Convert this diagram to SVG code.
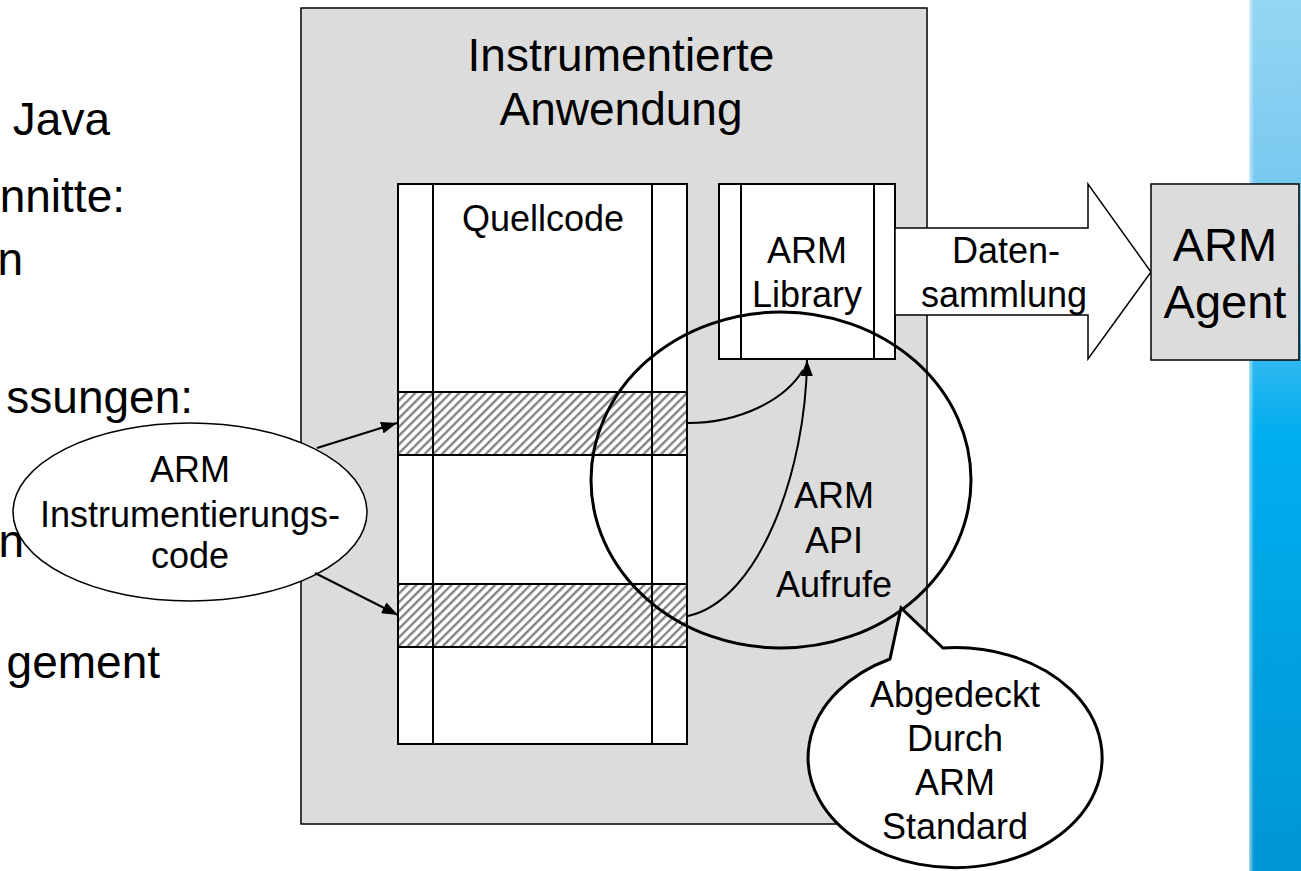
<svg xmlns="http://www.w3.org/2000/svg" width="1301" height="871" viewBox="0 0 1301 871">
<style>
.t{font-family:"Liberation Sans",Arial,Helvetica,sans-serif;fill:#000}
.s{stroke:#000;stroke-width:2;fill:#fff}
.ln{stroke:#000;stroke-width:2;fill:none}
</style>
<defs>
<pattern id="hatch" width="6.2" height="6.2" patternUnits="userSpaceOnUse" patternTransform="rotate(45)">
<rect width="6.2" height="6.2" fill="#fff"/>
<rect width="2.4" height="6.2" fill="#858585"/>
</pattern>
<linearGradient id="blue" x1="0" y1="0" x2="0" y2="1">
<stop offset="0" stop-color="#95d5f3"/>
<stop offset="0.3" stop-color="#6cc4ee"/>
<stop offset="0.5" stop-color="#00aeef"/>
<stop offset="1" stop-color="#0095d4"/>
</linearGradient>
<linearGradient id="edge" x1="0" y1="0" x2="1" y2="0">
<stop offset="0" stop-color="#fff" stop-opacity="1"/>
<stop offset="1" stop-color="#fff" stop-opacity="0"/>
</linearGradient>
<marker id="arr" viewBox="0 0 16 12" refX="16" refY="6" markerWidth="16" markerHeight="12" markerUnits="userSpaceOnUse" orient="auto">
<path d="M0,0 L16,6 L0,12 Z" fill="#000"/>
</marker>
</defs>

<g id="blue-bar">
<rect x="1249" y="0" width="52" height="871" fill="url(#blue)"/>
<rect x="1246" y="0" width="8" height="871" fill="url(#edge)"/>
</g>

<g id="left-text" class="t" font-size="46" text-anchor="end">
<text x="110" y="135">Java</text>
<text x="125" y="212">nnitte:</text>
<text x="23" y="275">n</text>
<text x="193" y="413">ssungen:</text>
<text x="24" y="557">n</text>
<text x="160" y="678">gement</text>
</g>

<g id="app">
<rect x="301" y="8" width="626" height="816" fill="#dcdcdc" stroke="#000" stroke-width="1.5"/>
<text class="t" font-size="46" x="621" y="71" text-anchor="middle">Instrumentierte</text>
<text class="t" font-size="46" x="621" y="125" text-anchor="middle">Anwendung</text>
</g>

<g id="quellcode">
<rect class="s" x="398" y="184" width="289" height="560"/>
<rect x="398" y="392" width="289" height="63" fill="url(#hatch)" stroke="#000" stroke-width="2"/>
<rect x="398" y="584" width="289" height="63" fill="url(#hatch)" stroke="#000" stroke-width="2"/>
<line class="ln" x1="433" y1="184" x2="433" y2="744"/>
<line class="ln" x1="652" y1="184" x2="652" y2="744"/>
<text class="t" font-size="36" x="543" y="231" text-anchor="middle">Quellcode</text>
</g>

<g id="arm-library">
<rect class="s" x="719" y="184" width="176" height="175"/>
<line class="ln" x1="741" y1="184" x2="741" y2="359"/>
<line class="ln" x1="874" y1="184" x2="874" y2="359"/>
<text class="t" font-size="36" x="807" y="263" text-anchor="middle">ARM</text>
<text class="t" font-size="36" x="807" y="307" text-anchor="middle">Library</text>
</g>

<g id="datensammlung">
<path d="M895,228 L1088,228 L1088,184 L1151,272 L1088,359 L1088,315 L895,315 Z" fill="#fff" stroke="#000" stroke-width="1.5"/>
<text class="t" font-size="36" x="1006" y="263" text-anchor="middle">Daten-</text>
<text class="t" font-size="36" x="1004" y="307" text-anchor="middle">sammlung</text>
</g>

<g id="arm-agent">
<rect x="1151" y="184" width="148" height="176" fill="#dcdcdc" stroke="#000" stroke-width="1.5"/>
<text class="t" font-size="47" x="1225" y="261" text-anchor="middle">ARM</text>
<text class="t" font-size="47" x="1225" y="318" text-anchor="middle">Agent</text>
</g>

<g id="instr-code">
<ellipse cx="190" cy="512" rx="177" ry="89" fill="#fff" stroke="#000" stroke-width="1.5"/>
<text class="t" font-size="36" x="190" y="482" text-anchor="middle">ARM</text>
<text class="t" font-size="36" x="190" y="527" text-anchor="middle">Instrumentierungs-</text>
<text class="t" font-size="36" x="190" y="568" text-anchor="middle">code</text>
</g>

<g id="connectors" fill="none" stroke="#000" stroke-width="2">
<line x1="317" y1="448" x2="397" y2="423" marker-end="url(#arr)"/>
<line x1="315" y1="573" x2="398" y2="615" marker-end="url(#arr)"/>
<path d="M688,423 C740,423 785,400 803,370"/>
<path d="M688,616 C760,600 806,470 807,360" marker-end="url(#arr)"/>
</g>

<g id="api-calls">
<ellipse cx="781" cy="480" rx="190" ry="168" fill="none" stroke="#000" stroke-width="3"/>
<text class="t" font-size="36" x="834" y="508" text-anchor="middle">ARM</text>
<text class="t" font-size="36" x="834" y="553" text-anchor="middle">API</text>
<text class="t" font-size="36" x="834" y="597" text-anchor="middle">Aufrufe</text>
</g>

<g id="standard-bubble">
<path d="M890,659 L901,608 L943,648 A147,110 0 1 1 890,659 Z" fill="#fff" stroke="#000" stroke-width="3" stroke-linejoin="miter"/>
<text class="t" font-size="36" x="955" y="707" text-anchor="middle">Abgedeckt</text>
<text class="t" font-size="36" x="955" y="751" text-anchor="middle">Durch</text>
<text class="t" font-size="36" x="955" y="795" text-anchor="middle">ARM</text>
<text class="t" font-size="36" x="955" y="839" text-anchor="middle">Standard</text>
</g>
</svg>
